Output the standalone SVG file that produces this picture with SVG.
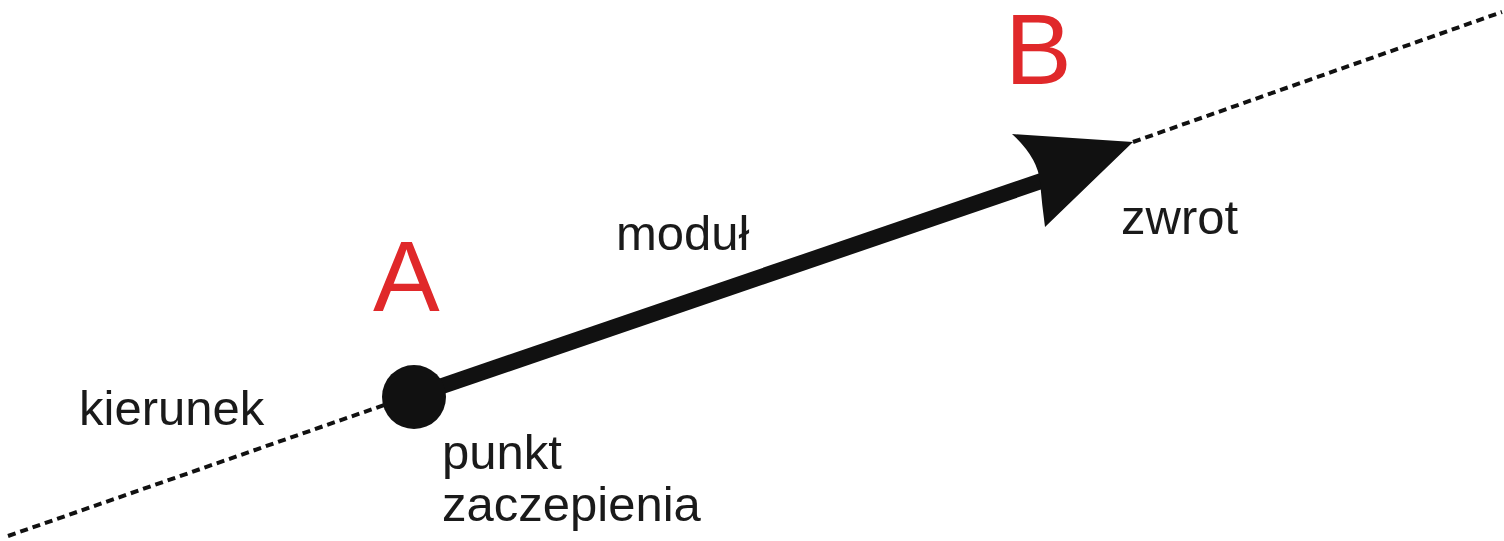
<svg xmlns="http://www.w3.org/2000/svg" width="1504" height="541" viewBox="0 0 1504 541">
<style>
.lbl{font-family:"Liberation Sans",Arial,sans-serif;font-size:49px;fill:#1a1a1a}
.pt{font-family:"Liberation Sans",Arial,sans-serif;font-size:100px;fill:#e0282a}
.dash{stroke:#111;stroke-width:4;stroke-dasharray:8 5;fill:none}
</style>
<rect width="1504" height="541" fill="#fff"/>
<g id="connectors">
<line class="dash" x1="8" y1="536" x2="390" y2="403"/>
<line class="dash" x1="1133" y1="142" x2="1502" y2="12"/>
<line x1="413" y1="396" x2="1050" y2="178" stroke="#111" stroke-width="16"/>
<path d="M1133,142 L1012,134 Q1038,158 1040,182 Q1042,205 1045,227 Z" fill="#111"/>
</g>
<g id="pointA">
<circle cx="414" cy="397" r="32" fill="#111"/>
<text class="pt" x="373" y="311">A</text>
</g>
<g id="pointB">
<text class="pt" x="1005" y="84">B</text>
</g>
<g id="labels">
<text class="lbl" x="79" y="425">kierunek</text>
<text class="lbl" x="616" y="250">moduł</text>
<text class="lbl" x="1121" y="234">zwrot</text>
<text class="lbl" x="442" y="469">punkt</text>
<text class="lbl" x="442" y="521">zaczepienia</text>
</g>
</svg>
